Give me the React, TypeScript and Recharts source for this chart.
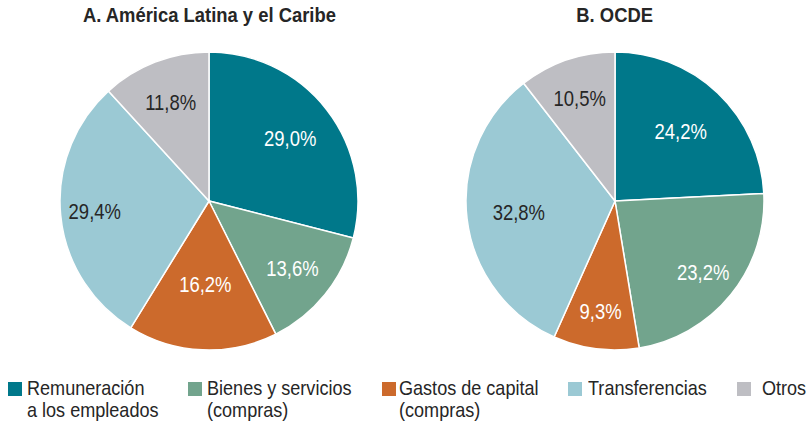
import React from "react";
import { Cell, Pie, PieChart } from "recharts";

const CATEGORIES = [
  "Remuneración a los empleados",
  "Bienes y servicios (compras)",
  "Gastos de capital (compras)",
  "Transferencias",
  "Otros",
];
const LEGEND_LINES = [
  ["Remuneración", "a los empleados"],
  ["Bienes y servicios", "(compras)"],
  ["Gastos de capital", "(compras)"],
  ["Transferencias"],
  ["Otros"],
];
const LATAM = [29.0, 13.6, 16.2, 29.4, 11.8];
const OCDE = [24.2, 23.2, 9.3, 32.8, 10.5];
const TITLES = ["A. América Latina y el Caribe", "B. OCDE"];

const COLORS = ["#00788A", "#72A48D", "#CC6A2C", "#9BC9D4", "#BEBEC3"];
const LABEL_FILL = ["#fff", "#fff", "#fff", "#262626", "#262626"];
const FONT = "'Liberation Sans', Arial, sans-serif";
// no condensed face installed, so text is squeezed horizontally
const SQUARE_X = [8, 188, 382, 568, 737];
const TEXT_X = [27, 207, 399, 588, 762];
const CENTERS = [209, 615];
// label distance from centre as a share of the radius (best-fit placement in the original)
const LABEL_R = [
  [0.69, 0.72, 0.56, 0.77, 0.71],
  [0.64, 0.76, 0.75, 0.65, 0.73],
];
const RADIAN = Math.PI / 180;

const toRows = (values: number[]) => CATEGORIES.map((name, i) => ({ name, value: values[i] }));

const makeLabel = (pie: number) => (props: any) => {
  const { cx, cy, midAngle, outerRadius, value, index } = props;
  const r = outerRadius * LABEL_R[pie][index];
  const x = cx + r * Math.cos(-midAngle * RADIAN);
  const y = cy + r * Math.sin(-midAngle * RADIAN);
  return (
    <text
      transform={`translate(${x},${y}) scale(0.84,1)`}
      fill={LABEL_FILL[index]}
      textAnchor="middle"
      dominantBaseline="central"
      fontSize={22}
      fontFamily={FONT}
    >
      {value.toFixed(1).replace(".", ",")}%
    </text>
  );
};

export default function App() {
  return (
    <div style={{ position: "absolute", left: 0, top: 0, width: 812, height: 428, background: "#fff", fontFamily: FONT, color: "#262626" }}>
      {TITLES.map((t, i) => (
        <div key={t} style={{ position: "absolute", top: 4, left: CENTERS[i] - 200, width: 400, textAlign: "center" }}>
          <span style={{ display: "inline-block", fontWeight: 700, fontSize: 20, transform: "scaleX(0.92)", whiteSpace: "nowrap" }}>{t}</span>
        </div>
      ))}
      <PieChart width={812} height={360} margin={{ top: 0, right: 0, bottom: 0, left: 0 }} style={{ position: "absolute", left: 0, top: 0 }}>
        {[LATAM, OCDE].map((values, i) => (
          <Pie
            key={i}
            data={toRows(values)}
            dataKey="value"
            nameKey="name"
            cx={CENTERS[i]}
            cy={201}
            outerRadius={149}
            startAngle={90}
            endAngle={-270}
            stroke="#fff"
            strokeWidth={1.5}
            label={makeLabel(i)}
            labelLine={false}
            isAnimationActive={false}
          >
            {values.map((_, j) => (
              <Cell key={j} fill={COLORS[j]} />
            ))}
          </Pie>
        ))}
      </PieChart>
      {LEGEND_LINES.map((lines, i) => (
        <React.Fragment key={i}>
          <div style={{ position: "absolute", left: SQUARE_X[i], top: 382, width: 14, height: 14, background: COLORS[i] }} />
          <div
            style={{
              position: "absolute",
              left: TEXT_X[i],
              top: 377,
              fontSize: 21,
              lineHeight: "21.5px",
              whiteSpace: "nowrap",
              transform: "scaleX(0.86)",
              transformOrigin: "left top",
            }}
          >
            {lines.map((l) => (
              <div key={l}>{l}</div>
            ))}
          </div>
        </React.Fragment>
      ))}
    </div>
  );
}
